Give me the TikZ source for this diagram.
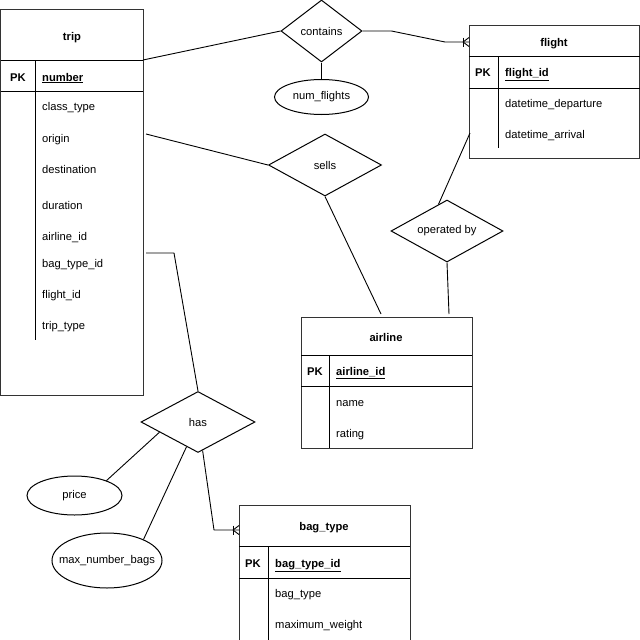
\documentclass[tikz,border=0pt]{standalone}
\usepackage{fontspec}
\setmainfont{Liberation Sans}
\usetikzlibrary{shapes.geometric,calc}
\newcommand{\crowfoot}[1]{%
  \draw[conn] ($(#1)+(-6,0)$) -- ($(#1)+(0,-4.5)$);
  \draw[conn] ($(#1)+(-6,0)$) -- ($(#1)+(0,4.5)$);
  \draw[conn] ($(#1)+(-6,-4.5)$) -- ($(#1)+(-6,4.5)$);}
\begin{document}
\begin{tikzpicture}[x=1pt,y=-1pt,
  font=\fontsize{11.2}{13}\selectfont,
  box/.style={draw=black!80, line width=1pt},
  div/.style={draw=black, line width=1pt},
  conn/.style={draw=black, line width=0.9pt, line join=round},
  lbl/.style={inner sep=0pt, anchor=base west},
  ttl/.style={inner sep=0pt, anchor=base, font=\fontsize{11.2}{13}\selectfont\bfseries},
  key/.style={inner sep=0pt, anchor=base west, font=\fontsize{11.2}{13}\selectfont\bfseries},
  rel/.style={draw=black, line width=1pt, diamond, aspect=2, inner sep=0pt},
  attr/.style={draw=black, line width=1pt, ellipse, inner sep=0pt}]
\useasboundingbox[fill=white] (0,0) rectangle (640,640);

% ---------- trip ----------
\draw[box] (0.5,9.5) rectangle (143,395);
\draw[div] (0.5,60) -- (143,60);
\draw[div] (0.5,91) -- (143,91);
\draw[div] (35,60) -- (35,340);
\node[ttl] (tripT) at (72,40) {trip};
\node[ttl] (tripPK) at (18,81) {PK};
\node[key] (tripK) at (42,81) {\underline{number}};
\node[lbl] (t1) at (42,110) {class\_type};
\node[lbl] (t2) at (42,142) {origin};
\node[lbl] (t3) at (42,173) {destination};
\node[lbl] (t4) at (42,209) {duration};
\node[lbl] (t5) at (42,240) {airline\_id};
\node[lbl] (t6) at (42,267) {bag\_type\_id};
\node[lbl] (t7) at (42,298) {flight\_id};
\node[lbl] (t8) at (42,329) {trip\_type};
\coordinate (tripA) at (143,60);
\coordinate (tripB) at (146,134);
\coordinate (tripC) at (146,253);

% ---------- flight ----------
\draw[box] (469,25) rectangle (639.5,158);
\draw[div] (469,56) -- (639.5,56);
\draw[div] (469,88) -- (639.5,88);
\draw[div] (498,56) -- (498,148);
\node[ttl] (flT) at (554,46) {flight};
\node[ttl] (flPK) at (483,76) {PK};
\node[key] (flK) at (505,76) {\underline{flight\_id}};
\node[lbl] (f1) at (505,107) {datetime\_departure};
\node[lbl] (f2) at (505,138) {datetime\_arrival};
\coordinate (flA) at (469,42);
\coordinate (flB) at (470,133);

% ---------- airline ----------
\draw[box] (301,317) rectangle (472,448);
\draw[div] (301,355) -- (472,355);
\draw[div] (301,386) -- (472,386);
\draw[div] (329,355) -- (329,448);
\node[ttl] (alT) at (386,341) {airline};
\node[ttl] (alPK) at (315,375) {PK};
\node[key] (alK) at (336,375) {\underline{airline\_id}};
\node[lbl] (a1) at (336,406) {name};
\node[lbl] (a2) at (336,437) {rating};
\coordinate (alA) at (381,314);
\coordinate (alB) at (449,314);

% ---------- bag_type ----------
\draw[box] (239,505) rectangle (410,640);
\draw[div] (239,546) -- (410,546);
\draw[div] (239,578) -- (410,578);
\draw[div] (268,546) -- (268,640);
\node[ttl] (bgT) at (324,530) {bag\_type};
\node[ttl] (bgPK) at (253,567) {PK};
\node[key] (bgK) at (275,567) {\underline{bag\_type\_id}};
\node[lbl] (b1) at (275,597) {bag\_type};
\node[lbl] (b2) at (275,628) {maximum\_weight};
\coordinate (bgA) at (239,530);

% ---------- relationships ----------
\node[rel, minimum width=81pt, minimum height=62pt] (contains) at (321.5,31) {contains};
\node[rel, minimum width=113pt, minimum height=62pt] (sells) at (325,165) {sells};
\node[rel, minimum width=112pt, minimum height=62pt] (op) at (447,231) {operated by};
\node[rel, minimum width=114pt, minimum height=61pt] (has) at (198,422) {has};

% ---------- attributes ----------
\node[attr, minimum width=94pt, minimum height=35pt] (numf) at (321.5,97) {};
\node[inner sep=0pt] (numfL) at (numf) {num\_flights};
\node[attr, minimum width=95pt, minimum height=39pt] (price) at (74.5,495.5) {};
\node[inner sep=0pt] (priceL) at (price) {price};
\node[attr, minimum width=110pt, minimum height=55pt] (maxb) at (107,560.5) {};
\node[inner sep=0pt] (maxbL) at (maxb) {max\_number\_bags};

% ---------- connectors ----------
\draw[conn] (tripA) -- (contains.west);
\draw[conn] (contains.east) -- ++(29,0) -- ($(flA)+(-24,0)$) -- (flA);
\crowfoot{flA}
\draw[conn] (contains.south) -- (numf.north);
\draw[conn] (tripB) -- (sells.west);
\draw[conn] (sells.south) -- (alA);
\draw[conn] (flB) -- ($(op.north)!0.15!(op.west)$);
\draw[conn] (op.south) -- (alB);
\draw[conn] (tripC) -- ++(28,0) -- (has.north);
\draw[conn] ($(has.west)!0.33!(has.south)$) -- (price.25);
\draw[conn] ($(has.west)!0.8!(has.south)$) -- (maxb.30);
\draw[conn] ($(has.south)!0.08!(has.east)$) -- ($(bgA)+(-25,0)$) -- (bgA);
\crowfoot{bgA}
\end{tikzpicture}
\end{document}
